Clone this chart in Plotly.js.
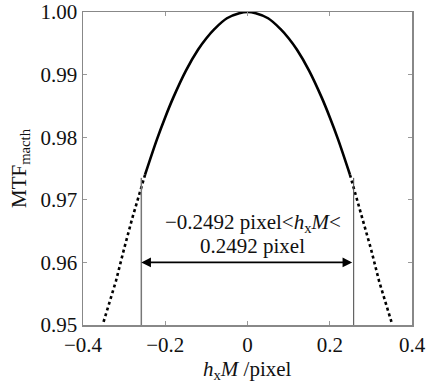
<!DOCTYPE html>
<html>
<head>
<meta charset="utf-8">
<script src="https://cdn.plot.ly/plotly-3.0.1.min.js"></script>
<style>html,body{margin:0;padding:0;background:#fff;}#chart{width:441px;height:381px;}</style>
</head>
<body>
<div id="chart"></div>
<script>
// Solid part of the curve (inside the matching range)
var solidX = [-0.2492, -0.22, -0.20, -0.18, -0.15, -0.12, -0.10, -0.08, -0.05, -0.02, 0, 0.02, 0.05, 0.08, 0.10, 0.12, 0.15, 0.18, 0.20, 0.22, 0.2492];
var solidY = [0.9740, 0.9797, 0.9832, 0.9864, 0.9906, 0.9940, 0.9958, 0.9973, 0.9990, 0.9998, 1.0000, 0.9998, 0.9990, 0.9973, 0.9958, 0.9940, 0.9906, 0.9864, 0.9832, 0.9797, 0.9740];
// Dotted parts of the curve (outside the range)
var dotLeftX = [-0.35, -0.32, -0.30, -0.28, -0.2492];
var dotLeftY = [0.9505, 0.9570, 0.9622, 0.9671, 0.9740];
var dotRightX = [0.2492, 0.28, 0.30, 0.32, 0.35];
var dotRightY = [0.9740, 0.9671, 0.9622, 0.9570, 0.9505];
// Range markers
var rangeLimits = [-0.2492, 0.2492];
var xTicks = [-0.4, -0.2, 0, 0.2, 0.4];
var xTickText = ['\u22120.4', '\u22120.2', '0', '0.2', '0.4'];
var yTicks = [0.95, 0.96, 0.97, 0.98, 0.99, 1.00];
var yTickText = ['0.95', '0.96', '0.97', '0.98', '0.99', '1.00'];
var rangeText = ['\u22120.2492 pixel&lt;<i>h</i><sub>x</sub><i>M</i>&lt;', '0.2492 pixel'];
var xTitle = '<i>h</i><sub>x</sub><i>M</i> /pixel';
var yTitle = 'MTF<sub>macth</sub>';

var FONT = '"Liberation Serif", "DejaVu Serif", serif';

var traces = [
  {x: solidX, y: solidY, mode: 'lines', line: {color: '#000', width: 2.6, shape: 'spline'}, hoverinfo: 'none'},
  {x: dotLeftX, y: dotLeftY, mode: 'lines', line: {color: '#000', width: 2.6, dash: 'dot'}, hoverinfo: 'none'},
  {x: dotRightX, y: dotRightY, mode: 'lines', line: {color: '#000', width: 2.6, dash: 'dot'}, hoverinfo: 'none'}
];

var vx = [rangeLimits[0] - 0.009, rangeLimits[1] + 0.009];

var layout = {
  width: 441, height: 381,
  margin: {l: 83, r: 29, t: 12, b: 56},
  paper_bgcolor: '#fff', plot_bgcolor: '#fff',
  showlegend: false,
  font: {family: FONT, size: 21, color: '#111'},
  xaxis: {
    range: [-0.4, 0.4], tickvals: xTicks, ticktext: xTickText,
    showgrid: false, zeroline: false,
    showline: true, mirror: 'ticks', linecolor: '#888', linewidth: 1.5,
    ticks: 'inside', ticklen: 4, tickcolor: '#999', tickwidth: 1,
    ticklabelstandoff: 0,
    tickfont: {family: FONT, size: 21, color: '#111'}
  },
  yaxis: {
    range: [0.95, 1.00], tickvals: yTicks, ticktext: yTickText,
    showgrid: false, zeroline: false,
    showline: true, mirror: 'ticks', linecolor: '#888', linewidth: 1.5,
    ticks: 'inside', ticklen: 4, tickcolor: '#999', tickwidth: 1,
    tickfont: {family: FONT, size: 21, color: '#111'},
    title: {text: yTitle, font: {family: FONT, size: 21, color: '#111'}, standoff: 8}
  },
  shapes: [
    {type: 'line', xref: 'x', yref: 'y', x0: vx[0], x1: vx[0], y0: 0.95, y1: 0.9735, line: {color: '#777', width: 1.5}},
    {type: 'line', xref: 'x', yref: 'y', x0: vx[1], x1: vx[1], y0: 0.95, y1: 0.9735, line: {color: '#444', width: 1}}
  ],
  annotations: [
    {x: vx[0], y: 0.96, ax: vx[1], ay: 0.96, xref: 'x', yref: 'y', axref: 'x', ayref: 'y',
     showarrow: true, arrowhead: 2, arrowside: 'end+start', arrowsize: 1.2, arrowwidth: 1.6, arrowcolor: '#000', text: ''},
    {x: 0.014, y: 0.9663, xref: 'x', yref: 'y', showarrow: false, yanchor: 'middle', xanchor: 'center',
     text: rangeText[0], font: {family: FONT, size: 21, color: '#111'}},
    {x: 0.011, y: 0.9626, xref: 'x', yref: 'y', showarrow: false, yanchor: 'middle', xanchor: 'center',
     text: rangeText[1], font: {family: FONT, size: 21, color: '#111'}},
    {x: 0.5, y: -0.144, xref: 'paper', yref: 'paper', showarrow: false, yanchor: 'middle', xanchor: 'center',
     text: xTitle, font: {family: FONT, size: 21, color: '#111'}}
  ]
};

Plotly.newPlot('chart', traces, layout, {staticPlot: true, displayModeBar: false});
</script>
</body>
</html>
